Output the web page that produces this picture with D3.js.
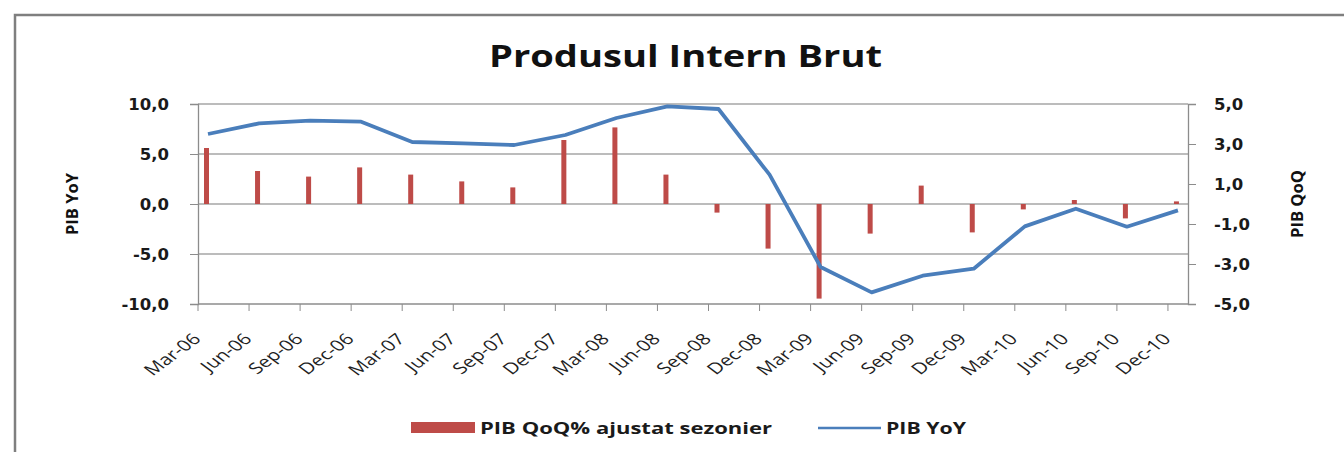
<!DOCTYPE html>
<html>
<head>
<meta charset="utf-8">
<script src="https://cdn.jsdelivr.net/npm/d3@7"></script>
<style>
  body { margin: 0; background: #fff; }
  svg { display: block; }
</style>
</head>
<body>
<div id="chart"></div>
<script>
// quarters on the category axis
const quarters = ["Mar-06", "Jun-06", "Sep-06", "Dec-06", "Mar-07", "Jun-07", "Sep-07", "Dec-07",
    "Mar-08", "Jun-08", "Sep-08", "Dec-08", "Mar-09", "Jun-09", "Sep-09", "Dec-09",
    "Mar-10", "Jun-10", "Sep-10", "Dec-10"];

// PIB QoQ% ajustat sezonier (right axis)
const qoq = [2.8, 1.65, 1.37, 1.83, 1.47, 1.13, 0.83, 3.2, 3.83, 1.47,
    -0.43, -2.23, -4.73, -1.48, 0.92, -1.42, -0.27, 0.2, -0.72, 0.13];

// PIB YoY (left axis)
const yoy = [7.0, 8.06, 8.33, 8.23, 6.2, 6.06, 5.9, 6.9, 8.6, 9.76,
    9.5, 2.93, -6.3, -8.84, -7.17, -6.47, -2.24, -0.47, -2.27, -0.64];

const leftTicks = [10, 5, 0, -5, -10];
const rightTicks = [5, 3, 1, -1, -3, -5];

const W = 1344, H = 452;
const plot = { left: 198, right: 1188, top: 104, bottom: 304 };
const step = 51.05;

const red = "#be4b48", blue = "#4a7ebb";
const fmt = v => d3.format(".1f")(v).replace(".", ",").replace("−", "-");

const svg = d3.select("#chart").append("svg")
    .attr("width", W)
    .attr("height", H)
    .attr("viewBox", `0 0 ${W} ${H}`);

svg.append("rect").attr("width", W).attr("height", H).attr("fill", "#fff");

// outer frame (cut at right and bottom in the picture)
svg.append("path")
    .attr("d", `M15,${H} L15,15 L${W},15`)
    .attr("fill", "none")
    .attr("stroke", "#7f7f7f")
    .attr("stroke-width", 2.5);

const x = d3.scaleBand()
    .domain(quarters)
    .range([plot.left, plot.left + step * quarters.length])
    .padding(0);

const yL = d3.scaleLinear().domain([-10, 10]).range([plot.bottom, plot.top]);
const yR = d3.scaleLinear().domain([-5, 5]).range([plot.bottom, plot.top]);

const barOff = 8.5, lineOff = 10;

// gridlines
svg.append("g")
    .selectAll("line")
    .data(leftTicks.filter(d => d !== -10))
    .join("line")
    .attr("x1", plot.left).attr("x2", plot.right)
    .attr("y1", d => yL(d)).attr("y2", d => yL(d))
    .attr("stroke", "#a6a6a6")
    .attr("stroke-width", 1.3);

// left axis
const gL = svg.append("g")
    .attr("transform", `translate(${plot.left},0)`)
    .call(d3.axisLeft(yL).tickValues(leftTicks).tickSize(8).tickPadding(21).tickFormat(fmt));
gL.select(".domain").attr("stroke", "#8c8c8c").attr("stroke-width", 1.3);
gL.selectAll(".tick line").attr("stroke", "#8c8c8c");
gL.selectAll("text")
    .attr("fill", "#1a1a1a")
    .style("font-family", "DejaVu Sans")
    .style("font-weight", "bold")
    .style("font-size", "16.5px");

// right axis
const gR = svg.append("g")
    .attr("transform", `translate(${plot.right},0)`)
    .call(d3.axisRight(yR).tickValues(rightTicks).tickSize(8).tickPadding(18).tickFormat(fmt));
gR.select(".domain").attr("stroke", "#8c8c8c").attr("stroke-width", 1.3);
gR.selectAll(".tick line").attr("stroke", "#8c8c8c");
gR.selectAll("text")
    .attr("fill", "#1a1a1a")
    .style("font-family", "DejaVu Sans")
    .style("font-weight", "bold")
    .style("font-size", "16.5px");

// category axis at the bottom
const gX = svg.append("g").attr("transform", `translate(0,${plot.bottom})`);
gX.append("line")
    .attr("x1", plot.left).attr("x2", plot.right)
    .attr("stroke", "#8c8c8c").attr("stroke-width", 1.3);
gX.selectAll(".xt")
    .data(quarters.filter(q => x(q) <= plot.right))
    .join("line")
    .attr("class", "xt")
    .attr("x1", d => x(d)).attr("x2", d => x(d))
    .attr("y1", 0).attr("y2", 7)
    .attr("stroke", "#8c8c8c");
// the source picture is stretched sideways, so the labels are too
gX.selectAll(".xl")
    .data(quarters)
    .join("text")
    .attr("class", "xl")
    .attr("transform", d => `translate(${x(d) + 4},36) scale(1.35,1) rotate(-45)`)
    .attr("text-anchor", "end")
    .attr("fill", "#1f1f1f")
    .style("font-family", "Open Sans")
    .style("font-size", "15.5px")
    .text(d => d);

// QoQ bars
svg.append("g")
    .selectAll("rect")
    .data(quarters.map((q, i) => ({ q, v: qoq[i] })))
    .join("rect")
    .attr("x", d => x(d.q) + barOff - 2.5)
    .attr("y", d => yR(Math.max(0, d.v)))
    .attr("width", 5)
    .attr("height", d => Math.abs(yR(d.v) - yR(0)))
    .attr("fill", red);

// YoY line
const line = d3.line()
    .x(d => x(d.q) + lineOff)
    .y(d => yL(d.v));
svg.append("path")
    .datum(quarters.map((q, i) => ({ q, v: yoy[i] })))
    .attr("d", line)
    .attr("fill", "none")
    .attr("stroke", blue)
    .attr("stroke-width", 3.8)
    .attr("stroke-linejoin", "round");

// title
svg.append("text")
    .attr("x", 489).attr("y", 67)
    .attr("textLength", 393)
    .attr("lengthAdjust", "spacingAndGlyphs")
    .style("font-family", "Open Sans")
    .style("font-weight", "bold")
    .style("font-size", "31px")
    .attr("fill", "#111")
    .text("Produsul Intern Brut");

// axis titles
svg.append("text")
    .attr("transform", "translate(78,235) rotate(-90)")
    .attr("textLength", 62)
    .attr("lengthAdjust", "spacingAndGlyphs")
    .style("font-family", "Open Sans")
    .style("font-weight", "bold")
    .style("font-size", "16.5px")
    .attr("fill", "#111")
    .text("PIB YoY");

svg.append("text")
    .attr("transform", "translate(1303,238) rotate(-90)")
    .attr("textLength", 68)
    .attr("lengthAdjust", "spacingAndGlyphs")
    .style("font-family", "Open Sans")
    .style("font-weight", "bold")
    .style("font-size", "16.5px")
    .attr("fill", "#111")
    .text("PIB QoQ");

// legend
const legend = svg.append("g");
legend.append("rect")
    .attr("x", 411).attr("y", 422).attr("width", 64).attr("height", 11)
    .attr("fill", red);
legend.append("text")
    .attr("x", 480).attr("y", 434)
    .attr("textLength", 292)
    .attr("lengthAdjust", "spacingAndGlyphs")
    .style("font-family", "Open Sans")
    .style("font-weight", "bold")
    .style("font-size", "16px")
    .attr("fill", "#1a1a1a")
    .text("PIB QoQ% ajustat sezonier");
legend.append("line")
    .attr("x1", 818).attr("x2", 881).attr("y1", 428).attr("y2", 428)
    .attr("stroke", blue).attr("stroke-width", 2.5);
legend.append("text")
    .attr("x", 886).attr("y", 434)
    .attr("textLength", 80)
    .attr("lengthAdjust", "spacingAndGlyphs")
    .style("font-family", "Open Sans")
    .style("font-weight", "bold")
    .style("font-size", "16px")
    .attr("fill", "#1a1a1a")
    .text("PIB YoY");
</script>
</body>
</html>
